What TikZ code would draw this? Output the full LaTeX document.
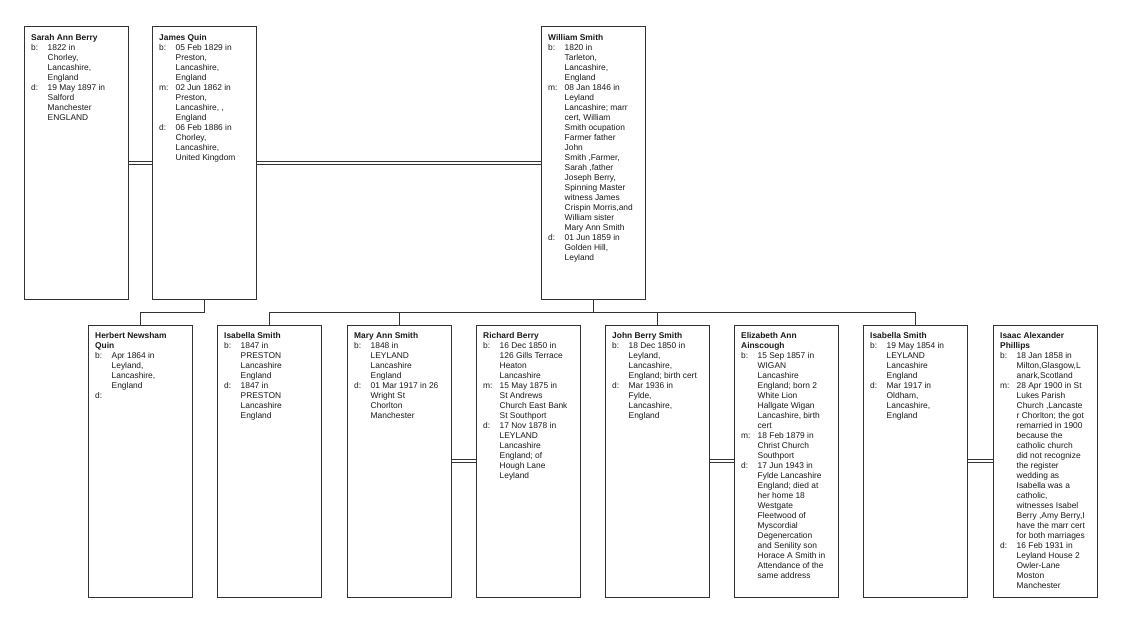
\documentclass[tikz,border=0pt]{standalone}
\usepackage{fontspec}
\setmainfont{Liberation Sans}
\newcommand{\ev}[2]{#1 & \begin{tabular}[t]{@{}l@{}}#2\end{tabular}\\}
\newcommand{\who}[1]{\multicolumn{2}{@{}l@{}}{\textbf{#1}}\\}
\newcommand{\card}[1]{\begin{tabular}{@{}p{16.5pt}@{}l@{}}#1\end{tabular}}
\begin{document}
\begin{tikzpicture}[x=1pt,y=-1pt,font=\fontsize{8.4}{10}\selectfont]
        \tikzstyle{person}=[rectangle,draw=black!80,line width=0.9pt,anchor=north west,minimum width=104pt,minimum height=272.5pt,inner sep=0pt]
        \tikzstyle{card}=[anchor=north west,inner sep=0pt,xshift=7pt,yshift=-7pt,text=black!90]
        \tikzstyle{couple}=[draw=black!80,line width=0.8pt,double=white,double distance=2.2pt]
        \tikzstyle{edge}=[draw=black!80,line width=0.9pt]
        \useasboundingbox (0,0) rectangle (1129,625);
       \begin{scope}
         \node [person,label={[card]north west:{\card{\who{Sarah Ann Berry}
           \ev{b:}{1822 in\\Chorley,\\Lancashire,\\England}
           \ev{d:}{19 May 1897 in\\Salford\\Manchester\\ENGLAND}}}}] (sarah) at (24,26) {};
         \node [person,label={[card]north west:{\card{\who{James Quin}
           \ev{b:}{05 Feb 1829 in\\Preston,\\Lancashire,\\England}
           \ev{m:}{02 Jun 1862 in\\Preston,\\Lancashire, ,\\England}
           \ev{d:}{06 Feb 1886 in\\Chorley,\\Lancashire,\\United Kingdom}}}}] (james) at (152,26) {};
         \node [person,label={[card]north west:{\card{\who{William Smith}
           \ev{b:}{1820 in\\Tarleton,\\Lancashire,\\England}
           \ev{m:}{08 Jan 1846 in\\Leyland\\Lancashire; marr\\cert, William\\Smith ocupation\\Farmer father\\John\\Smith ,Farmer,\\Sarah ,father\\Joseph Berry,\\Spinning Master\\witness James\\Crispin Morris,and\\William sister\\Mary Ann Smith}
           \ev{d:}{01 Jun 1859 in\\Golden Hill,\\Leyland}}}}] (william) at (541,26) {};
       \end{scope}
       \begin{scope}
         \node [person,label={[card]north west:{\card{\who{Herbert Newsham}\who{Quin}
           \ev{b:}{Apr 1864 in\\Leyland,\\Lancashire,\\England}
           \ev{d:}{}}}}] (herbert) at (88,324.5) {};
         \node [person,label={[card]north west:{\card{\who{Isabella Smith}
           \ev{b:}{1847 in\\PRESTON\\Lancashire\\England}
           \ev{d:}{1847 in\\PRESTON\\Lancashire\\England}}}}] (isabella) at (217,324.5) {};
         \node [person,label={[card]north west:{\card{\who{Mary Ann Smith}
           \ev{b:}{1848 in\\LEYLAND\\Lancashire\\England}
           \ev{d:}{01 Mar 1917 in 26\\Wright St\\Chorlton\\Manchester}}}}] (mary) at (347,324.5) {};
         \node [person,label={[card]north west:{\card{\who{Richard Berry}
           \ev{b:}{16 Dec 1850 in\\126 Gills Terrace\\Heaton\\Lancashire}
           \ev{m:}{15 May 1875 in\\St Andrews\\Church East Bank\\St Southport}
           \ev{d:}{17 Nov 1878 in\\LEYLAND\\Lancashire\\England; of\\Hough Lane\\Leyland}}}}] (richard) at (476,324.5) {};
         \node [person,label={[card]north west:{\card{\who{John Berry Smith}
           \ev{b:}{18 Dec 1850 in\\Leyland,\\Lancashire,\\England; birth cert}
           \ev{d:}{Mar 1936 in\\Fylde,\\Lancashire,\\England}}}}] (john) at (605,324.5) {};
         \node [person,label={[card]north west:{\card{\who{Elizabeth Ann}\who{Ainscough}
           \ev{b:}{15 Sep 1857 in\\WIGAN\\Lancashire\\England; born 2\\White Lion\\Hallgate Wigan\\Lancashire, birth\\cert}
           \ev{m:}{18 Feb 1879 in\\Christ Church\\Southport}
           \ev{d:}{17 Jun 1943 in\\Fylde Lancashire\\England; died at\\her home 18\\Westgate\\Fleetwood of\\Myscordial\\Degenercation\\and Senility son\\Horace A Smith in\\Attendance of the\\same address}}}}] (elizabeth) at (734,324.5) {};
         \node [person,label={[card]north west:{\card{\who{Isabella Smith}
           \ev{b:}{19 May 1854 in\\LEYLAND\\Lancashire\\England}
           \ev{d:}{Mar 1917 in\\Oldham,\\Lancashire,\\England}}}}] (isabellb) at (863,324.5) {};
         \node [person,label={[card]north west:{\card{\who{Isaac Alexander}\who{Phillips}
           \ev{b:}{18 Jan 1858 in\\Milton,Glasgow,L\\anark,Scotland}
           \ev{m:}{28 Apr 1900 in St\\Lukes Parish\\Church ,Lancaste\\r Chorlton; the got\\remarried in 1900\\because the\\catholic church\\did not recognize\\the register\\wedding as\\Isabella was a\\catholic,\\witnesses Isabel\\Berry ,Amy Berry,I\\have the marr cert\\for both marriages}
           \ev{d:}{16 Feb 1931 in\\Leyland House 2\\Owler-Lane\\Moston\\Manchester}}}}] (isaac) at (993,324.5) {};
       \end{scope}
         \draw[couple] (sarah) -- (james);
         \draw[couple] (james) -- (william);
         \draw[couple] (mary) -- (richard);
         \draw[couple] (john) -- (elizabeth);
         \draw[couple] (isabellb) -- (isaac);
         \coordinate (bus) at (0,312);
         \draw[edge] (james.south) -- (james.south |- bus) -| (herbert.north);
         \draw[edge] (william.south) -- (william.south |- bus);
         \draw[edge] (isabella.north) -- (isabella.north |- bus) -| (isabellb.north);
         \foreach \c in {mary,john} \draw[edge] (\c.north) -- (\c.north |- bus);
\end{tikzpicture}
\end{document}
